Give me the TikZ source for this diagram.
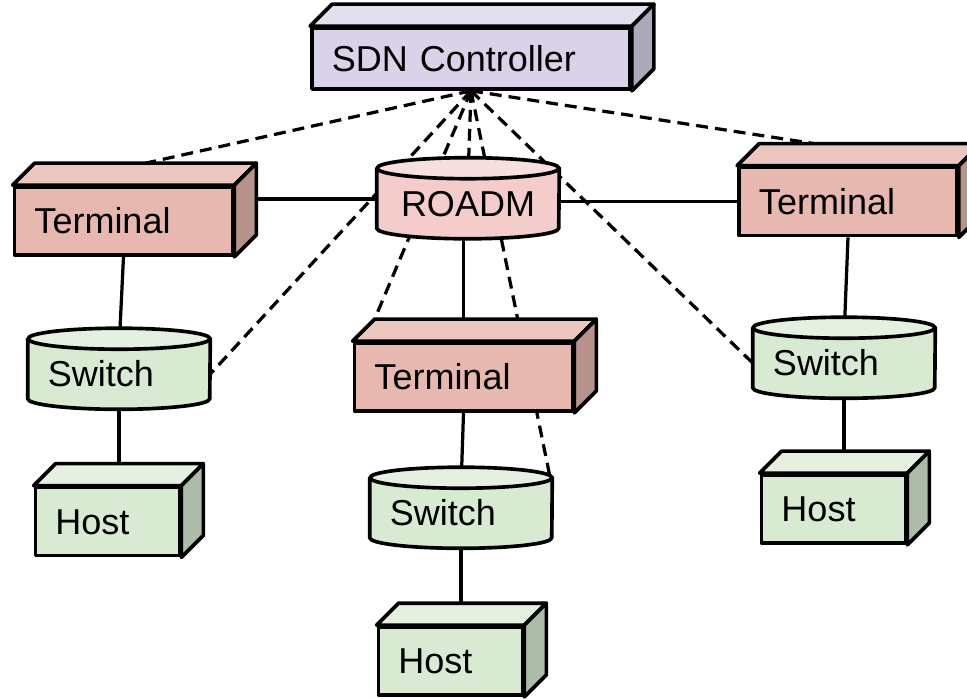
\documentclass[tikz,border=0pt]{standalone}
\usepackage{fontspec}
\setmainfont{Liberation Sans}
\usetikzlibrary{calc}

\definecolor{ctrlfill}{HTML}{D9D2E9}
\definecolor{ctrltop}{HTML}{E4DFEF}
\definecolor{ctrlside}{HTML}{ADA8BA}
\definecolor{termfill}{HTML}{E6B8AF}
\definecolor{termtop}{HTML}{ECC7C0}
\definecolor{termside}{HTML}{B8938C}
\definecolor{roadmfill}{HTML}{F4CCCC}
\definecolor{roadmtop}{HTML}{F8DFDF}
\definecolor{hostfill}{HTML}{D9EAD3}
\definecolor{hosttop}{HTML}{E5F0E1}
\definecolor{hostside}{HTML}{ADBBA8}

\pgfdeclarelayer{links}
\pgfdeclarelayer{drums}
\pgfsetlayers{links,drums,main}

\tikzset{
  face/.style={draw, line width=2.6pt, line join=round},
  cube/.style={face, align=left, inner xsep=0.5cm, inner ysep=0pt,
    text height=18.4pt, text depth=0pt, minimum height=1.7cm,
    font=\fontsize{25.6}{30}\selectfont},
  drum/.style={align=left, inner xsep=0.5cm, inner ysep=0pt, text width=3.55cm,
    text height=18.4pt, text depth=0pt, minimum height=1.225cm,
    font=\fontsize{25.6}{30}\selectfont},
  link/.style={line width=2.3pt},
  ctl/.style={line width=2.3pt, dash pattern=on 8.5pt off 5pt},
}

\newcommand{\cubefaces}[3]{%
  \draw[face, fill=#2] (#1.north west) -- ++(22,-22) coordinate (#1-nw)
    -- ([shift={(22,-22)}]#1.north east) -- (#1.north east) -- cycle;
  \draw[face, fill=#3] (#1.north east) -- ++(22,-22)
    -- ([shift={(22,-22)}]#1.south east) -- (#1.south east) -- cycle;
  \coordinate (#1-top) at ([shift={(22,-22)}]#1.north);
  \coordinate (#1-side) at ([shift={(22,-22)}]#1.east);
}

\newcommand{\drumfaces}[3]{%
  \begin{pgfonlayer}{drums}
  \draw[face, fill=#2] ([yshift=0.2625cm]#1.north west) -- (#1.south west)
    arc[start angle=180, end angle=360, x radius=2.275cm, y radius=0.2625cm]
    -- ([yshift=0.2625cm]#1.north east) -- cycle;
  \draw[face, fill=#3] ([yshift=0.2625cm]#1.north)
    ellipse [x radius=2.275cm, y radius=0.2625cm];
  \end{pgfonlayer}
}

\begin{document}
\begin{tikzpicture}[x=0.025cm, y=-0.025cm]
\useasboundingbox (0,0) rectangle (967,698);
\node[cube, fill=ctrlfill, text width=6.95cm, minimum height=1.525cm] (Ctrl) at (471,58.5) {SDN Controller};
\cubefaces{Ctrl}{ctrltop}{ctrlside}
\node[cube, fill=termfill, text width=4.45cm] (TermL) at (123.5,221) {Terminal};
\cubefaces{TermL}{termtop}{termside}
\node[cube, fill=termfill, text width=4.45cm] (TermC) at (463.5,377) {Terminal};
\cubefaces{TermC}{termtop}{termside}
\node[cube, fill=termfill, text width=4.45cm] (TermR) at (848,201.5) {Terminal};
\cubefaces{TermR}{termtop}{termside}
\node[cube, fill=hostfill, text width=2.6cm] (HostL) at (107.5,521.5) {Host};
\cubefaces{HostL}{hosttop}{hostside}
\node[cube, fill=hostfill, text width=2.6cm] (HostC) at (450.5,661) {Host};
\cubefaces{HostC}{hosttop}{hostside}
\node[cube, fill=hostfill, text width=2.6cm] (HostR) at (833.5,509) {Host};
\cubefaces{HostR}{hosttop}{hostside}
\node[drum, align=center] (RoadM) at (468,203.5) {ROADM};
\drumfaces{RoadM}{roadmfill}{roadmtop}
\node[drum] (SwL) at (119,374) {Switch};
\drumfaces{SwL}{hostfill}{hosttop}
\node[drum] (SwC) at (461,513) {Switch};
\drumfaces{SwC}{hostfill}{hosttop}
\node[drum] (SwR) at (844,363) {Switch};
\drumfaces{SwR}{hostfill}{hosttop}
\begin{pgfonlayer}{links}
\path[link]
  (TermL-side) edge (TermL-side -| RoadM.west)
  (RoadM.east |- TermR.west) edge (TermR.west)
  (TermL.south) edge (SwL.north)
  (SwL.south) edge (SwL.south |- HostL-top)
  (RoadM.south -| TermC.north) edge (TermC.north |- TermC-top)
  (TermC.south) edge (SwC.north)
  (SwC.south) edge (SwC.south |- HostC-top)
  (TermR.south) edge (SwR.north)
  (SwR.south) edge (SwR.south |- HostR-top)
  (Ctrl.south) edge[ctl] (TermL-top)
  (Ctrl.south) edge[ctl] (SwL.east)
  (Ctrl.south) edge[ctl] (TermC-nw)
  (Ctrl.south) edge[ctl] (RoadM.north)
  (Ctrl.south) edge[ctl] (SwC.north east)
  (Ctrl.south) edge[ctl] (SwR.west)
  (Ctrl.south) edge[ctl] ($(TermR-nw)!0.5!(TermR-top)$)
;
\end{pgfonlayer}
\end{tikzpicture}
\end{document}
